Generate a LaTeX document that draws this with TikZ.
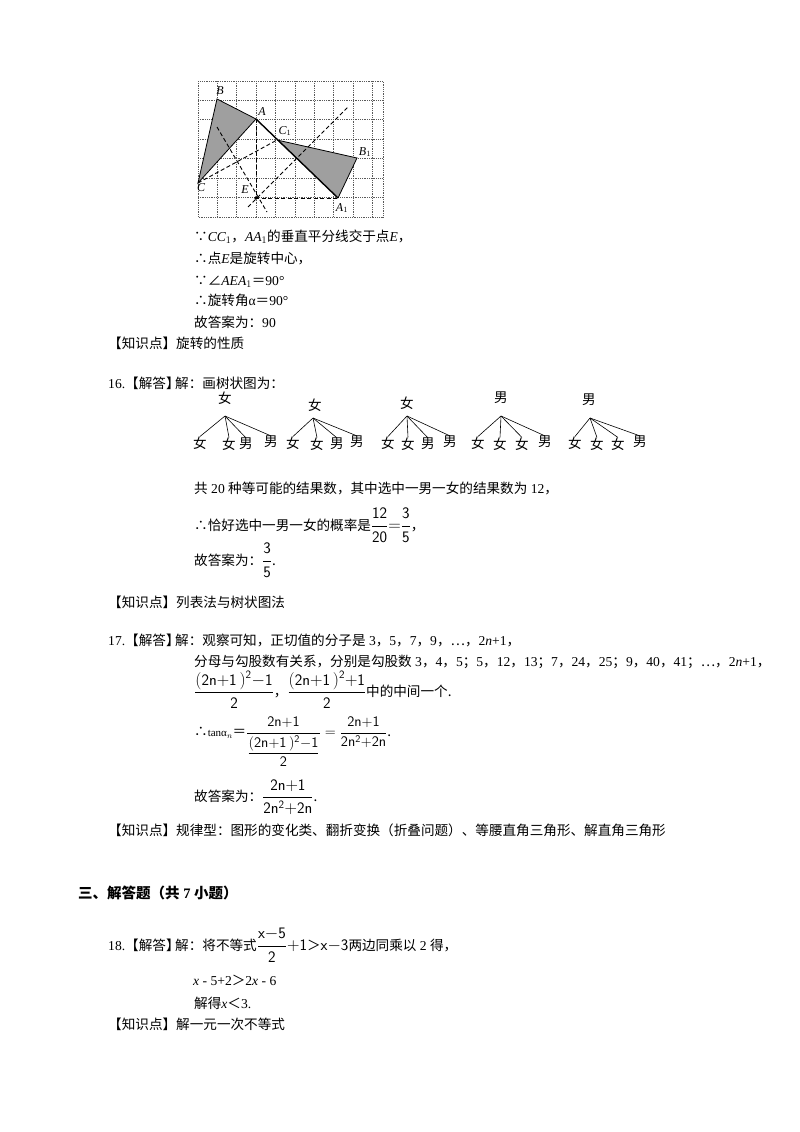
\documentclass[tikz,border=0pt]{standalone}
\usepackage{amsmath}
\usepackage{fontspec}
\setmainfont{Noto Sans CJK SC}
\newfontfamily\tm{Liberation Serif}
\newcommand\mf{\fontsize{16}{18}\selectfont}
\newcommand\mg{\fontsize{14.5}{16}\selectfont}
\begin{document}
\begin{tikzpicture}[x=1pt,y=-1pt,
  every node/.style={inner sep=0pt,font=\fontsize{13.6}{15}\selectfont},
  tx/.style={anchor=base west},
  dl/.style={line width=0.9pt,dash pattern=on 4pt off 2.5pt},
  gl/.style={densely dotted,line width=0.8pt,gray!70!black},
  br/.style={line width=0.6pt},
  lab/.style={font=\tm\itshape\fontsize{12}{12}\selectfont}]
\useasboundingbox (0,0) rectangle (800,1132);
% grid
\foreach \k in {1,...,9} \draw[gl] ({198+19.4*\k},81) -- ({198+19.4*\k},217);
\foreach \k in {1,...,6} \draw[gl] (198,{81+19.4*\k}) -- (383,{81+19.4*\k});
\draw[gl] (198,81) rectangle (383,217);
\coordinate (B) at (217,99); \coordinate (A) at (256,119); \coordinate (C) at (198,183);
\coordinate (C1) at (277,140); \coordinate (B1) at (357,158); \coordinate (A1) at (338,198);
\coordinate (E) at (256,198);
\fill[gray!75] (A)--(B)--(C)--cycle; \draw[line width=0.8pt] (A)--(B)--(C)--cycle;
\fill[gray!75] (C1)--(B1)--(A1)--cycle; \draw[line width=0.8pt] (C1)--(B1)--(A1);
\draw[line width=1.4pt] (A)--(A1);
\draw[dl] (A)--(E)--(A1); \draw[dl] (C)--(C1);
\coordinate (p1) at (217,127); \coordinate (p2) at (267,212);
\coordinate (q1) at (248,207); \coordinate (q2) at (348,107);
\draw[dl] (p1)--(p2); \draw[dl] (q1)--(q2);
\fill (E) circle (1.8);
\node[lab] (lB) at (220,91) {B};
\node[lab] (lA) at (262,112) {A};
\node[lab] (lC) at (201,188) {C};
\node[lab] (lC1) at (285,131) {C$_1$};
\node[lab] (lB1) at (365,152) {B$_1$};
\node[lab] (lA1) at (342,208) {A$_1$};
\node[lab] (lE) at (245,190) {E};
% section 15 text
\node[tx] (s1) at (194,241) {∵{\tm\itshape CC}{\tm$_1$}，{\tm\itshape AA}{\tm$_1$}的垂直平分线交于点{\tm\itshape E}，};
\node[tx] (s2) at (194,263) {∴点{\tm\itshape E}是旋转中心，};
\node[tx] (s3) at (194,285) {∵∠{\tm\itshape AEA}{\tm$_1$}＝{\tm 90°}};
\node[tx] (s4) at (194,305) {∴旋转角{\tm α}＝{\tm 90°}};
\node[tx] (s5) at (194,327) {故答案为：{\tm 90}};
\node[tx] (k15) at (108,348) {【知识点】旋转的性质};
% 16
\node[tx] (h16) at (108,388) {{\tm 16.}【解答】};
\node[tx] (j16) at (175,388) {解：画树状图为：};
\foreach \r/\rx/\ry/\ax/\ay/\ca/\cb/\cc/\cd/\la/\lb/\lc/\ld [count=\i] in {
 女/225/398/225/416/200/229/246/271/女/女/男/男,
 女/315/405/313/418/293/317/337/357/女/女/男/男,
 女/407/403/407/416/388/408/428/450/女/女/男/男,
 男/501/398/501/416/478/500/522/545/女/女/女/男,
 男/589/400/590/418/575/597/618/640/女/女/女/男}{
 \node (r\i) at (\rx,\ry) {\r};
 \coordinate (a\i) at (\ax,\ay);
 \node (c\i a) at (\ca,443) {\la}; \node (c\i b) at (\cb,444) {\lb};
 \node (c\i c) at (\cc,444) {\lc}; \node (c\i d) at (\cd,442) {\ld};
 \foreach \c in {a,b,c,d} \draw[br] (a\i) -- (c\i\c.north);
}
\node[tx] (t1) at (194,493) {共{\tm\ 20 }种等可能的结果数，其中选中一男一女的结果数为{\tm\ 12}，};
\node[anchor=west] (t2) at (194,525) {∴恰好选中一男一女的概率是{\mf$\dfrac{\mathsf{12}}{\mathsf{20}}{=}\dfrac{\mathsf3}{\mathsf5}$}，};
\node[anchor=west] (t3) at (194,560) {故答案为：{\mf$\dfrac{\mathsf3}{\mathsf5}$}.};
\node[tx] (k16) at (108,607) {【知识点】列表法与树状图法};
% 17
\node[tx] (h17) at (108,645) {{\tm 17.}【解答】};
\node[tx] (j17) at (175,645) {解：观察可知，正切值的分子是{\tm\ 3}，{\tm 5}，{\tm 7}，{\tm 9}，…，{\tm 2\itshape n\upshape+1}，};
\node[tx] (u1) at (194,666) {分母与勾股数有关系，分别是勾股数{\tm\ 3}，{\tm 4}，{\tm 5}；{\tm 5}，{\tm 12}，{\tm 13}；{\tm 7}，{\tm 24}，{\tm 25}；{\tm 9}，{\tm 40}，{\tm 41}；…，{\tm 2\itshape n\upshape+1}，};
\node[anchor=west] (u2) at (194,690) {{\mf$\dfrac{\mathsf{(2n{+}1\,)^{2}{-}1}}{\mathsf2}$}，{\mf$\dfrac{\mathsf{(2n{+}1\,)^{2}{+}1}}{\mathsf2}$}中的中间一个.};
\node[anchor=west] (u3) at (194,742) {∴{\tm\fontsize{11}{11}\selectfont tanα$_n$}＝{\mg$\dfrac{\mathsf{2n{+}1}}{\dfrac{\mathsf{(2n{+}1\,)^{2}{-}1}}{\mathsf2}}=\dfrac{\mathsf{2n{+}1}}{\mathsf{2n^2{+}2n}}$}.};
\node[anchor=west] (u4) at (194,797) {故答案为：{\mf$\dfrac{\mathsf{2n{+}1}}{\mathsf{2n^2{+}2n}}$}.};
\node[tx] (k17) at (108,835) {【知识点】规律型：图形的变化类、翻折变换（折叠问题）、等腰直角三角形、解直角三角形};
% section 3
\node[tx,font=\fontsize{14.5}{16}\selectfont\bfseries] (sec) at (78,898) {三、解答题（共{\tm\bfseries\ 7 }小题）};
\node[tx] (h18) at (108,950) {{\tm 18.}【解答】};
\node[anchor=west] (j18) at (175,945) {解：将不等式{\mf$\dfrac{\mathsf{x{-}5}}{\mathsf2}\mathsf{+1}$}＞{\mf$\mathsf{x{-}3}$}两边同乘以{\tm\ 2 }得，};
\node[tx] (v1) at (193,985) {{\tm\itshape x}{\tm\ - 5+2}＞{\tm 2\itshape x\upshape\ - 6}};
\node[tx] (v2) at (194,1008) {解得{\tm\itshape x}＜{\tm 3.}};
\node[tx] (k18) at (108,1029) {【知识点】解一元一次不等式};
\end{tikzpicture}
\end{document}
